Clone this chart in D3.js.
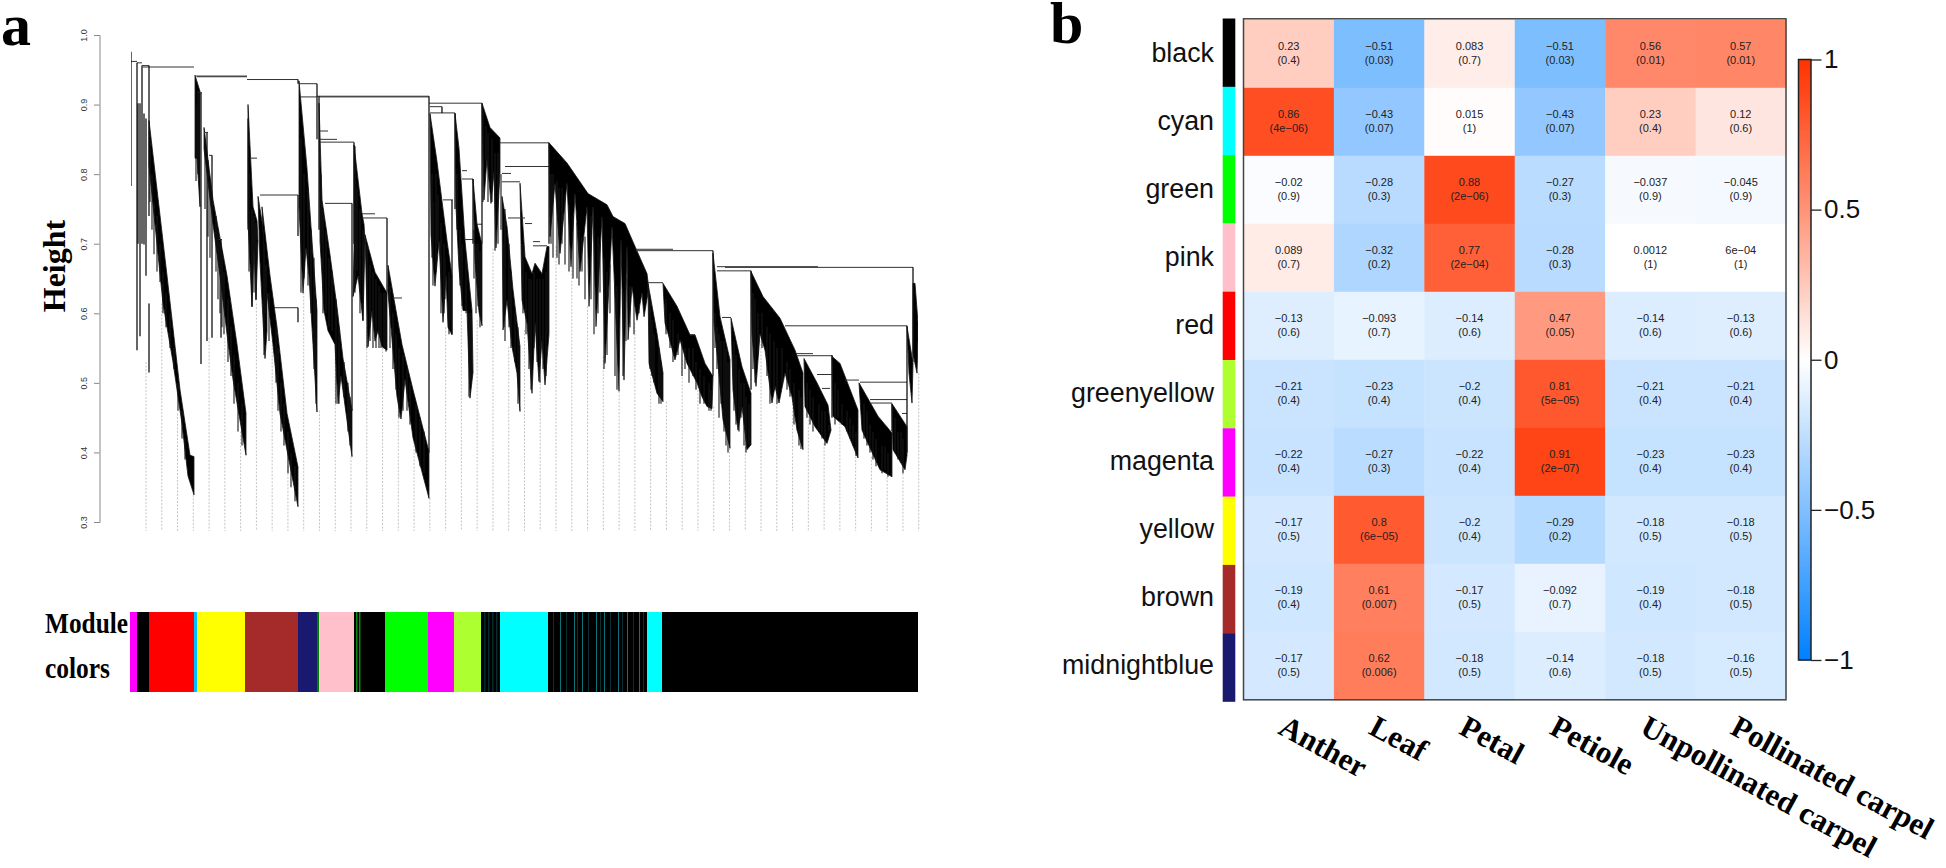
<!DOCTYPE html>
<html><head><meta charset="utf-8">
<script src="https://cdn.jsdelivr.net/npm/d3@7"></script>
<style>html,body{margin:0;background:#fff}svg{display:block}</style></head><body>
<svg id="c" width="1946" height="868"><defs><filter id="soft" x="0" y="0" width="100%" height="100%"><feGaussianBlur stdDeviation="0.4"/></filter></defs></svg>
<script>
// ---------- Panel a: dendrogram, gene order 0..788, height 0.3..1.0
const heightTicks = [0.3,0.4,0.5,0.6,0.7,0.8,0.9,1.0];
const leafTops = [.53,.614,.456,.339,.565,.565,.43,.614,.555,.38,.63,.46,.555,.394,.58,.55,.47,.42,.334,.58,.614,.59,.693,
 .552,.576,.504,.696,.667,.61,.538,.488,.586,.528,.473,.533,.5,.466,.406,.423,.571,.471,.48,.452,.413,.442,.399,.394,.37,.375,.514];
// dense clusters: upper edge / lower edge, [gene order, height]
const clusters = [
 [[[19,.877],[37,.654],[50,.49],[60,.396],[64,.394]],[[19,.813],[33,.614],[43,.53],[52,.441],[58,.366],[64,.339]]],
 [[[65,.942],[70,.919]],[[65,.823],[67,.823],[70,.753]]],
 [[[74,.867],[83,.763],[97,.654],[107,.555],[116,.456]],[[74,.837],[83,.728],[90,.654],[97,.57],[103,.505],[110,.446],[116,.396]]],
 [[[118,.9],[123,.753],[127,.733]],[[118,.733],[122,.609],[124,.694],[126,.619],[128,.704]]],
 [[[128,.768],[133,.723],[137,.654]],[[130,.674],[135,.535],[137,.575]]],
 [[[132,.753],[140,.654],[147,.58],[157,.456],[168,.379]],[[135,.654],[143,.555],[150,.456],[160,.381],[168,.322]]],
 [[[169,.934],[177,.808],[182,.704],[187,.604]],[[169,.753],[173,.629],[176,.694],[179,.654],[183,.555],[187,.458]]],
 [[[189,.902],[192,.763],[200,.684],[207,.609],[213,.535],[222,.461]],[[190,.704],[194,.604],[198,.575],[205,.555],[208,.47],[211,.51],[217,.446],[222,.394]]],
 [[[224,.842],[232,.743],[234,.728]],[[224,.694],[223,.624],[228,.654],[233,.589],[235,.704]]],
 [[[235,.713],[245,.659],[257,.629]],[[238,.552],[242,.604],[245,.56],[248,.575],[252,.552],[257,.547]]],
 [[[258,.669],[272,.555],[283,.49],[299,.401]],[[258,.629],[267,.48],[271,.448],[275,.505],[283,.421],[299,.334]]],
 [[[300,.887],[307,.818],[317,.704],[322,.654]],[[301,.713],[305,.639],[309,.704],[313,.587],[316,.654],[318,.58],[322,.569]]],
 [[[325,.887],[329,.837],[335,.704],[342,.604]],[[326,.753],[329,.664],[333,.604],[337,.604],[340,.478],[343,.515]]],
 [[[343,.793],[347,.728],[352,.699]],[[345,.674],[349,.602],[352,.582]]],
 [[[352,.902],[360,.867],[370,.852]],[[354,.763],[357,.823],[361,.758],[364,.803],[366,.694],[370,.803]]],
 [[[372,.768],[377,.725],[383,.634],[390,.552]],[[373,.576],[377,.619],[382,.552],[387,.514],[390,.459]]],
 [[[390,.787],[395,.681],[402,.657],[405,.672],[412,.657],[417,.696],[419,.696]],[[392,.619],[397,.586],[402,.485],[405,.586],[409,.502],[412,.562],[415,.497],[419,.571]]],
 [[[419,.845],[437,.816],[458,.772],[477,.756],[483,.739],[495,.729],[505,.696],[517,.657],[518,.645]],
  [[420,.71],[425,.787],[430,.686],[437,.787],[441,.667],[445,.772],[450,.66],[457,.753],[459,.61],[463,.753],[466,.581],[472,.739],[475,.528],[482,.725],[489,.488],[491,.705],[494,.504],[497,.696],[498,.562],[502,.638],[507,.59],[512,.629],[514,.595],[518,.629]]],
 [[[518,.643],[527,.571],[533,.514]],[[519,.528],[527,.485],[533,.473]]],
 [[[533,.643],[547,.61],[560,.569],[565,.569],[575,.528],[583,.509]],[[535,.586],[538,.571],[545,.533],[550,.562],[557,.528],[567,.5],[572,.48],[577,.466],[582,.463]]],
 [[[583,.686],[590,.595],[600,.533]],[[584,.586],[588,.528],[593,.447],[600,.406]]],
 [[[601,.593],[612,.523],[621,.485]],[[603,.49],[608,.432],[612,.466],[617,.404],[621,.411]]],
 [[[621,.66],[633,.624],[650,.593],[665,.547],[673,.514]],[[622,.571],[626,.495],[630,.571],[635,.547],[642,.471],[645,.495],[649,.471],[655,.514],[662,.48],[667,.432],[673,.404]]],
 [[[674,.535],[687,.5],[698,.468]],[[675,.466],[685,.437],[697,.413],[701,.432]]],
 [[[702,.538],[710,.528],[728,.461]],[[703,.452],[715,.437],[728,.392]]],
 [[[729,.5],[748,.452],[762,.428]],[[732,.432],[750,.375],[762,.365]]],
 [[[762,.47],[777,.437]],[[763,.404],[775,.375],[777,.396]]],
 [[[777,.581],[783,.528]],[[779,.514],[782,.471],[783,.528]]],
 [[[783,.643],[785,.643],[788,.586]],[[783,.542],[787,.514],[788,.562]]]
];
// horizontal joins: [from, to, height]
const merges = [[1,7,.962],[7,12,.96],[12,19,.956],[13,64,.954],[65,117,.941],[67,117,.94],[117,168,.936],[169,187,.93],[170,187,.911],[187,299,.912],[189,299,.911],[299,352,.902],[300,312,.897],[300,325,.888],
 [190,198,.862],[189,207,.85],[190,224,.846],[195,222,.758],[233,257,.737],[232,245,.743],[144,168,.608],[130,168,.77],[120,127,.823],[68,72,.917],[74,78,.86],[79,82,.827],[88,92,.706],[263,272,.622],
 [313,323,.763],[332,337,.805],[332,343,.793],[335,343,.706],[347,352,.728],[370,419,.845],[375,420,.811],[372,381,.801],[372,390,.789],[378,395,.737],[395,402,.729],[403,410,.703],[403,417,.697],
 [506,543,.692],[506,583,.69],[518,533,.644],[560,565,.569],[587,688,.667],[595,783,.666],[587,621,.661],[592,601,.594],[655,777,.582],[666,683,.542],[667,702,.539],[687,702,.512],[692,700,.492],[715,729,.504],[730,777,.501],[740,777,.476],[741,762,.471],[772,777,.456]];
// vertical stems: [gene order, top height, bottom height]
const stems = [[1,.976,.783],[7,.96,.547],[8,.902,.7],[10,.902,.567],[12,.956,.7],[14,.887,.699],[16,.88,.654],[19,.956,.74],[19,.614,.515],
 [71,.917,.527],[77,.86,.56],[82,.827,.565],[91,.706,.565],[168,.77,.711],[168,.608,.587],[168,.936,.93],[187,.93,.85],[189,.912,.72],[222,.758,.46],[224,.846,.7],[257,.737,.63],[299,.912,.4],
 [312,.897,.888],[322,.763,.57],[325,.888,.75],[352,.902,.7],[343,.793,.7],[419,.845,.7],[583,.69,.51],[621,.661,.49],[777,.582,.4],[783,.666,.53],[702,.54,.45],[762,.47,.43]];
// hanging strands below the clusters: [gene order, top height, bottom height]
const strands = [
 [20,.85,.76],[22,.8,.72],[24,.76,.685],[27,.74,.66],[30,.7,.645],[33,.66,.6],[36,.63,.58],[40,.6,.55],[44,.55,.52],[48,.5,.46],[52,.46,.42],[55,.42,.39],
 [66,.9,.79],[68,.92,.8],[75,.85,.75],[78,.82,.71],[80,.79,.68],[86,.74,.66],[88,.72,.62],[90,.7,.6],[92,.69,.58],[94,.66,.57],[98,.62,.53],[101,.58,.51],[104,.54,.47],[108,.5,.43],[112,.47,.41],
 [118,.88,.72],[119,.8,.66],[122,.75,.61],[124,.74,.63],[126,.73,.62],[134,.7,.54],[136,.67,.6],[139,.63,.56],[146,.58,.5],[148,.55,.46],[151,.5,.43],[154,.47,.41],[158,.43,.37],[161,.4,.35],[165,.38,.33],
 [171,.85,.63],[174,.8,.65],[178,.78,.64],[181,.72,.6],[184,.68,.52],[186,.62,.47],
 [191,.8,.7],[193,.75,.6],[196,.72,.6],[199,.68,.58],[202,.66,.575],[206,.62,.47],[209,.58,.47],[214,.53,.48],[218,.5,.43],[220,.48,.41],
 [225,.84,.63],[227,.78,.66],[230,.75,.6],[233,.72,.59],[237,.7,.55],[240,.67,.56],[243,.66,.55],[246,.65,.55],[249,.64,.55],[251,.63,.55],[254,.63,.55],[256,.63,.545],
 [260,.64,.55],[263,.6,.52],[266,.57,.49],[269,.55,.45],[273,.54,.46],[277,.52,.46],[280,.5,.44],[286,.47,.4],[290,.45,.38],[294,.43,.37],
 [302,.8,.68],[303,.76,.64],[306,.8,.66],[308,.77,.7],[311,.73,.6],[314,.7,.6],[315,.68,.62],[319,.66,.57],[320,.65,.59],[327,.8,.72],[330,.72,.64],[332,.7,.61],[336,.68,.6],[339,.6,.48],[341,.6,.5],[344,.72,.65],[346,.7,.6],[348,.7,.61],[350,.69,.58],
 [353,.89,.76],[356,.87,.82],[358,.86,.76],[362,.85,.76],[365,.83,.69],[368,.83,.7],[371,.8,.72],
 [374,.7,.58],[375,.75,.56],[379,.7,.58],[381,.66,.55],[385,.6,.53],[388,.58,.47],[393,.7,.6],[396,.66,.57],[399,.65,.52],[401,.65,.49],[404,.66,.55],[407,.65,.53],[410,.65,.5],[413,.65,.52],[416,.66,.51],[418,.68,.57],
 [421,.8,.7],[423,.8,.68],[427,.79,.68],[429,.78,.67],[432,.78,.7],[435,.77,.67],[439,.75,.66],[443,.74,.65],[447,.73,.65],[449,.72,.64],[452,.71,.66],[455,.71,.62],[461,.74,.62],[464,.72,.57],[468,.71,.6],[470,.7,.63],[474,.68,.52],[477,.66,.54],[480,.67,.6],[485,.64,.51],[487,.64,.49],[493,.63,.51],[496,.65,.56],[500,.64,.58],[504,.62,.57],[509,.61,.6],
 [520,.62,.52],[522,.59,.51],[524,.57,.5],[529,.55,.47],[531,.53,.47],[536,.62,.57],[540,.6,.55],[543,.59,.53],[548,.57,.54],[552,.56,.51],[555,.55,.52],[559,.55,.5],[563,.55,.51],[566,.53,.49],[570,.52,.47],[574,.51,.47],[579,.5,.46],[581,.49,.46],
 [585,.6,.55],[587,.58,.52],[589,.57,.45],[591,.56,.47],[594,.56,.43],[596,.55,.41],[598,.53,.4],[604,.56,.46],[606,.54,.44],[609,.52,.43],[611,.5,.45],[614,.5,.41],[616,.48,.4],[619,.47,.41],
 [623,.63,.52],[625,.62,.5],[628,.6,.54],[632,.6,.55],[637,.58,.51],[640,.57,.47],[644,.56,.49],[647,.55,.47],[652,.55,.5],[657,.53,.49],[660,.52,.48],[664,.5,.44],[669,.49,.41],[671,.48,.405],
 [677,.5,.45],[680,.49,.44],[683,.48,.43],[689,.47,.43],[692,.46,.42],[695,.46,.41],[699,.44,.43],[705,.5,.44],[708,.49,.45],[712,.47,.44],[717,.46,.43],[720,.45,.42],[723,.44,.41],[726,.43,.395],
 [734,.47,.42],[737,.46,.41],[740,.44,.4],[743,.43,.39],[746,.42,.38],[752,.41,.37],[755,.41,.375],[758,.4,.365],[765,.45,.4],[768,.43,.39],[771,.43,.385],[773,.42,.37]];
const moduleColors = ["magenta","black","red","deepskyblue","yellow","brown","midnightblue","green","pink","black","lime","magenta","greenyellow","black","cyan","black","cyan","black"];
const moduleStarts = [0,7,19,64,67,115,168,187,189,224,255,298,324,351,370,418,517,532];
const moduleEnds = [7,19,64,67,115,168,187,189,224,255,298,324,351,370,418,517,532,788];
const cyanStripes = [430,444,452,466,474,488,497,509];
const dimStripes = [423,436,447,458,470,480,492,503,513];
const greenStripes = [226,229];
const tealStripes = [354,358,362,366];
// ---------- Panel b: module-trait heatmap
const modules = ["black","cyan","green","pink","red","greenyellow","magenta","yellow","brown","midnightblue"];
const moduleFill = ["black","cyan","lime","pink","red","greenyellow","magenta","yellow","brown","midnightblue"];
const traits = ["Anther","Leaf","Petal","Petiole","Unpollinated carpel","Pollinated carpel"];
const corrText = [
 ["0.23","−0.51","0.083","−0.51","0.56","0.57"],
 ["0.86","−0.43","0.015","−0.43","0.23","0.12"],
 ["−0.02","−0.28","0.88","−0.27","−0.037","−0.045"],
 ["0.089","−0.32","0.77","−0.28","0.0012","6e−04"],
 ["−0.13","−0.093","−0.14","0.47","−0.14","−0.13"],
 ["−0.21","−0.23","−0.2","0.81","−0.21","−0.21"],
 ["−0.22","−0.27","−0.22","0.91","−0.23","−0.23"],
 ["−0.17","0.8","−0.2","−0.29","−0.18","−0.18"],
 ["−0.19","0.61","−0.17","−0.092","−0.19","−0.18"],
 ["−0.17","0.62","−0.18","−0.14","−0.18","−0.16"]];
const pText = [
 ["0.4","0.03","0.7","0.03","0.01","0.01"],
 ["4e−06","0.07","1","0.07","0.4","0.6"],
 ["0.9","0.3","2e−06","0.3","0.9","0.9"],
 ["0.7","0.2","2e−04","0.3","1","1"],
 ["0.6","0.7","0.6","0.05","0.6","0.6"],
 ["0.4","0.4","0.4","5e−05","0.4","0.4"],
 ["0.4","0.3","0.4","2e−07","0.4","0.4"],
 ["0.5","6e−05","0.4","0.2","0.5","0.5"],
 ["0.4","0.007","0.5","0.7","0.4","0.5"],
 ["0.5","0.006","0.5","0.6","0.5","0.5"]];
const legendTicks = [-1,-0.5,0,0.5,1];
const colorStops = [-1,-0.5,0,0.5,1];
const colorValues = ["#0080ff","#80bfff","#ffffff","#ff9478","#ff3300"];

const SANS = "'Liberation Sans',Arial,sans-serif", SERIF = "'Liberation Serif','Times New Roman',serif";
const svg = d3.select("#c");
const x = d3.scaleLinear().domain([0,788]).range([130,918]);
const y = d3.scaleLinear().domain([0.3,1]).range([522,35]);
const a = svg.append("g");

// leaf guide lines
a.append("g").selectAll("line").data(leafTops).join("line")
 .attr("x1",(d,i)=>x(16+i*15.77)).attr("x2",(d,i)=>x(16+i*15.77))
 .attr("y1",d=>y(d)).attr("y2",y(0.287))
 .attr("stroke","#c4c4c4").attr("stroke-width",1).attr("stroke-dasharray","2 1.5");

const dendro = a.append("g").attr("filter","url(#soft)");
const line = d3.line().x(d=>x(d[0])).y(d=>y(d[1]));
dendro.append("g").selectAll("path").data(clusters).join("path")
 .attr("d",c=>line(c[0].concat(c[1].slice().reverse()))+"Z")
 .attr("fill","#000").attr("stroke","#111").attr("stroke-width",.8).attr("stroke-linejoin","round");
dendro.append("g").selectAll("line").data(merges).join("line")
 .attr("x1",d=>x(d[0])).attr("x2",d=>x(d[1])).attr("y1",d=>y(d[2])).attr("y2",d=>y(d[2]))
 .attr("stroke","#333").attr("stroke-width",1);
dendro.append("g").selectAll("line").data(stems).join("line")
 .attr("x1",d=>x(d[0])).attr("x2",d=>x(d[0])).attr("y1",d=>y(d[1])).attr("y2",d=>y(d[2]))
 .attr("stroke","#111").attr("stroke-width",1.3);
dendro.append("g").selectAll("line").data(strands).join("line")
 .attr("x1",d=>x(d[0])).attr("x2",d=>x(d[0])).attr("y1",d=>y(d[1])).attr("y2",d=>y(d[2]))
 .attr("stroke","#111").attr("stroke-width",1.1);

const ax = a.append("g").attr("transform","translate(99.5,0)")
 .call(d3.axisLeft(y).tickValues(heightTicks).tickFormat(d3.format(".1f")).tickSize(5.5));
ax.selectAll("path,line").attr("stroke","#888").attr("stroke-width",1);
ax.selectAll(".tick text").attr("transform","rotate(-90)").attr("x",0).attr("y",-13)
 .attr("text-anchor","middle").attr("dy",0).attr("font-size",9).attr("font-family",SANS).attr("fill","#333");

a.append("text").attr("transform","translate(65,266) rotate(-90)").attr("text-anchor","middle")
 .attr("font-family",SERIF).attr("font-weight","bold").attr("font-size",32).text("Height");
a.append("text").attr("x",1).attr("y",45).attr("font-family",SERIF).attr("font-weight","bold").attr("font-size",60).text("a");

// module colour bar
const barY = 612, barH = 80;
a.append("g").selectAll("rect").data(moduleColors).join("rect")
 .attr("x",(d,i)=>x(moduleStarts[i])).attr("width",(d,i)=>x(moduleEnds[i])-x(moduleStarts[i]))
 .attr("y",barY).attr("height",barH).attr("fill",d=>d);
const stripe=(data,col,w)=>a.append("g").selectAll("rect").data(data).join("rect")
 .attr("x",d=>x(d)).attr("width",w).attr("y",barY).attr("height",barH).attr("fill",col);
stripe(dimStripes,"#063034",1); stripe(cyanStripes,"#0b7379",1); stripe(greenStripes,"#0a8a0a",1.5); stripe(tealStripes,"#082a2a",1.5);
a.append("text").attr("x",45).attr("y",633).attr("font-family",SERIF).attr("font-weight","bold").attr("font-size",29)
 .attr("textLength",83).attr("lengthAdjust","spacingAndGlyphs").text("Module");
a.append("text").attr("x",45).attr("y",678).attr("font-family",SERIF).attr("font-weight","bold").attr("font-size",29)
 .attr("textLength",65).attr("lengthAdjust","spacingAndGlyphs").text("colors");

// heatmap
const b = svg.append("g");
const col = d3.scaleBand().domain(traits).range([1243.5,1786]);
const row = d3.scaleBand().domain(modules).range([19.8,699.8]);
const color = d3.scaleLinear().domain(colorStops).range(colorValues);
const num = s=>Number(s.replace("−","-"));
const cells = modules.flatMap((m,i)=>traits.map((t,j)=>({m,t,c:corrText[i][j],p:pText[i][j]})));
const cg = b.append("g").selectAll("g").data(cells).join("g");
cg.append("rect").attr("x",d=>col(d.t)).attr("y",d=>row(d.m)).attr("width",col.bandwidth()+.4).attr("height",row.bandwidth()+.4)
 .attr("fill",d=>color(num(d.c)));
cg.append("text").attr("x",d=>col(d.t)+col.bandwidth()/2).attr("y",d=>row(d.m)+row.bandwidth()/2-4)
 .attr("text-anchor","middle").attr("font-family",SANS).attr("font-size",11).attr("fill","#222").text(d=>d.c);
cg.append("text").attr("x",d=>col(d.t)+col.bandwidth()/2).attr("y",d=>row(d.m)+row.bandwidth()/2+10)
 .attr("text-anchor","middle").attr("font-family",SANS).attr("font-size",11).attr("fill","#222").text(d=>`(${d.p})`);
b.append("rect").attr("x",col.range()[0]).attr("y",row.range()[0]-1).attr("width",col.range()[1]-col.range()[0]).attr("height",row.range()[1]-row.range()[0]+1)
 .attr("fill","none").attr("stroke","#444").attr("stroke-width",1.5);

// side strip and row labels
const side = d3.scaleBand().domain(modules).range([18.5,701.5]);
b.append("g").selectAll("rect").data(modules).join("rect")
 .attr("x",1222.7).attr("width",12.6).attr("y",d=>side(d)).attr("height",side.bandwidth()+.3)
 .attr("fill",(d,i)=>moduleFill[i]);
b.append("g").selectAll("text").data(modules).join("text")
 .attr("x",1214).attr("y",d=>row(d)+row.bandwidth()/2+8.2).attr("text-anchor","end")
 .attr("font-family",SANS).attr("font-size",26.8).attr("fill","#111").text(d=>d);

// column labels
b.append("g").selectAll("text").data(traits).join("text")
 .attr("transform",d=>`translate(${col(d)+col.bandwidth()/2-12},733) rotate(28.5)`)
 .attr("font-family",SERIF).attr("font-weight","bold").attr("font-size",31).attr("fill","#000").text(d=>d);
b.append("text").attr("x",1050).attr("y",43).attr("font-family",SERIF).attr("font-weight","bold").attr("font-size",60).text("b");

// colour legend
const ly = d3.scaleLinear().domain([-1,1]).range([660,59.5]);
const sliceValues = d3.range(-1,1,0.01);
b.append("g").selectAll("rect").data(sliceValues).join("rect")
 .attr("x",1798.5).attr("width",12.5).attr("y",d=>ly(d+0.01)).attr("height",d=>ly(d)-ly(d+0.01)+.5).attr("fill",d=>color(d+0.005));
b.append("rect").attr("x",1798.5).attr("y",59.5).attr("width",12.5).attr("height",600.5).attr("fill","none").attr("stroke","#222").attr("stroke-width",1.5);
const lg = b.append("g").attr("transform","translate(1811,0)")
 .call(d3.axisRight(ly).tickValues(legendTicks).tickSize(10.5).tickFormat(d=>String(d).replace("-","−")));
lg.select(".domain").remove();
lg.selectAll("line").attr("stroke","#222").attr("stroke-width",1.3);
lg.selectAll("text").attr("x",13).attr("font-family",SANS).attr("font-size",26).attr("fill","#111");
</script>
</body></html>
